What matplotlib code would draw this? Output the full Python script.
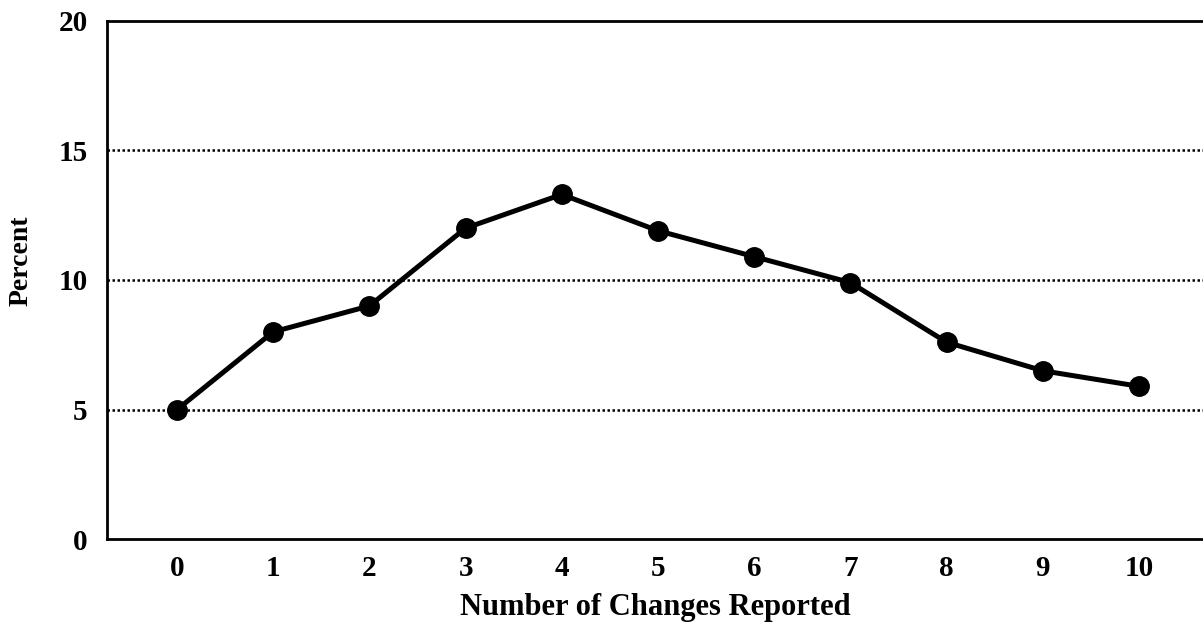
#!/usr/bin/env python3
import matplotlib

matplotlib.use("Agg")
import matplotlib.pyplot as plt


changes = [0, 1, 2, 3, 4, 5, 6, 7, 8, 9, 10]
percent = [5.0, 8.0, 9.0, 12.0, 13.3, 11.9, 10.9, 9.9, 7.6, 6.5, 5.9]
y_ticks = [0, 5, 10, 15, 20]


def main():
    plt.rcParams["font.family"] = ["Liberation Serif", "DejaVu Serif"]
    plt.rcParams["font.weight"] = "bold"

    fig = plt.figure(figsize=(12.03, 6.25), dpi=100)
    ax = fig.add_axes([0.0889, 0.1371, 0.9111, 0.8298])

    # ---- dotted reference lines ----
    for y in y_ticks[1:-1]:
        ax.axhline(y, color="black", linestyle=(0, (1, 1)), linewidth=1.8, zorder=1)

    ax.plot(changes, percent, color="black", linewidth=3.6, marker="o",
            markersize=14, zorder=3)

    ax.set_xlim(-0.728, 10.665)
    ax.set_ylim(0, 20)
    ax.set_xticks(changes)
    ax.set_yticks(y_ticks)
    ax.tick_params(length=0, labelsize=21)
    ax.tick_params(axis="x", pad=11)
    ax.tick_params(axis="y", pad=14)
    for lbl in ax.get_xticklabels() + ax.get_yticklabels():
        lbl.set_fontweight("bold")

    ax.spines["right"].set_visible(False)
    for side in ("left", "top", "bottom"):
        ax.spines[side].set_linewidth(2.0)

    ax.set_xlabel("Number of Changes Reported", fontsize=22, fontweight="bold")
    ax.xaxis.set_label_coords(0.5, -0.103)
    ax.set_ylabel("Percent", fontsize=20, fontweight="bold")
    ax.yaxis.set_label_coords(-0.067, 0.537)

    fig.savefig("out.png", dpi=100)


if __name__ == "__main__":
    main()
